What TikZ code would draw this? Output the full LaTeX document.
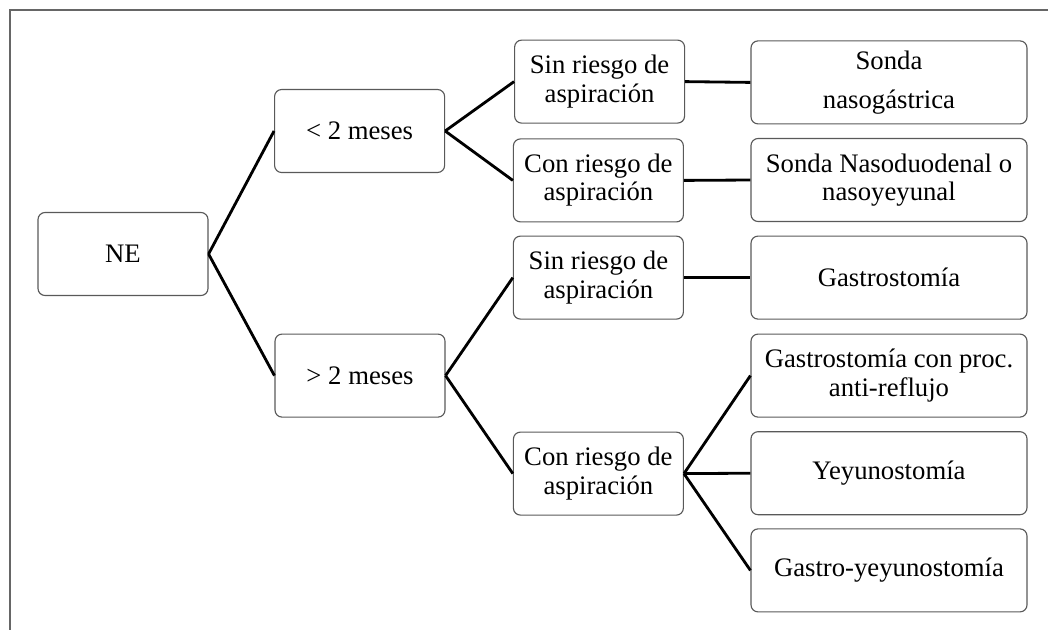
\documentclass[tikz,border=0pt]{standalone}
\usepackage{fontspec}
\setmainfont{Liberation Serif}

\begin{document}
\begin{tikzpicture}[
        caja/.style={rectangle, draw=black!65, line width=0.8pt, rounded corners=5pt, minimum width=4.25cm, minimum height=2.075cm, inner sep=0pt, align=center, font=\fontsize{19}{20}\selectfont},
        destino/.style={caja, minimum width=6.9cm},
        rama/.style={line width=2pt}
    ]
        \useasboundingbox (0, 0) rectangle (26.2, -15.75);
        % Frame
        \draw[black!60, line width=1.4pt] (26.2, -0.25) -- (0.25, -0.25) -- (0.25, -15.75);

        % Root
        \node[caja] (ne) at (3.075, -6.35) {NE};

        % Age
        \node[caja] (menos) at (8.99, -3.275) {< 2 meses};
        \node[caja] (mas) at (9.0, -9.39) {> 2 meses};

        % Risk
        \node[caja] (sin1) at (14.99, -2.04) {Sin riesgo de\\aspiración};
        \node[caja] (con1) at (14.96, -4.51) {Con riesgo de\\aspiración};
        \node[caja] (sin2) at (14.96, -6.94) {Sin riesgo de\\aspiración};
        \node[caja] (con2) at (14.96, -11.84) {Con riesgo de\\aspiración};

        % Access
        \node[destino] (sng) at (22.225, -2.06) {Sonda\\[8pt]nasogástrica};
        \node[destino] (snd) at (22.225, -4.5) {Sonda Nasoduodenal o\\nasoyeyunal};
        \node[destino] (gas) at (22.225, -6.94) {Gastrostomía};
        \node[destino] (gar) at (22.225, -9.39) {Gastrostomía con proc.\\anti-reflujo};
        \node[destino] (yey) at (22.225, -11.83) {Yeyunostomía};
        \node[destino] (gye) at (22.225, -14.26) {Gastro-yeyunostomía};

        % Branches
        \draw[rama] (ne.east) -- (menos.west);
        \draw[rama] (ne.east) -- (mas.west);

        \draw[rama] (menos.east) -- (sin1.west);
        \draw[rama] (menos.east) -- (con1.west);
        \draw[rama] (mas.east) -- (sin2.west);
        \draw[rama] (mas.east) -- (con2.west);

        \draw[rama] (sin1.east) -- (sng.west);
        \draw[rama] (con1.east) -- (snd.west);
        \draw[rama] (sin2.east) -- (gas.west);
        \draw[rama] (con2.east) -- (gar.west);
        \draw[rama] (con2.east) -- (yey.west);
        \draw[rama] (con2.east) -- (gye.west);
    \end{tikzpicture}
\end{document}
